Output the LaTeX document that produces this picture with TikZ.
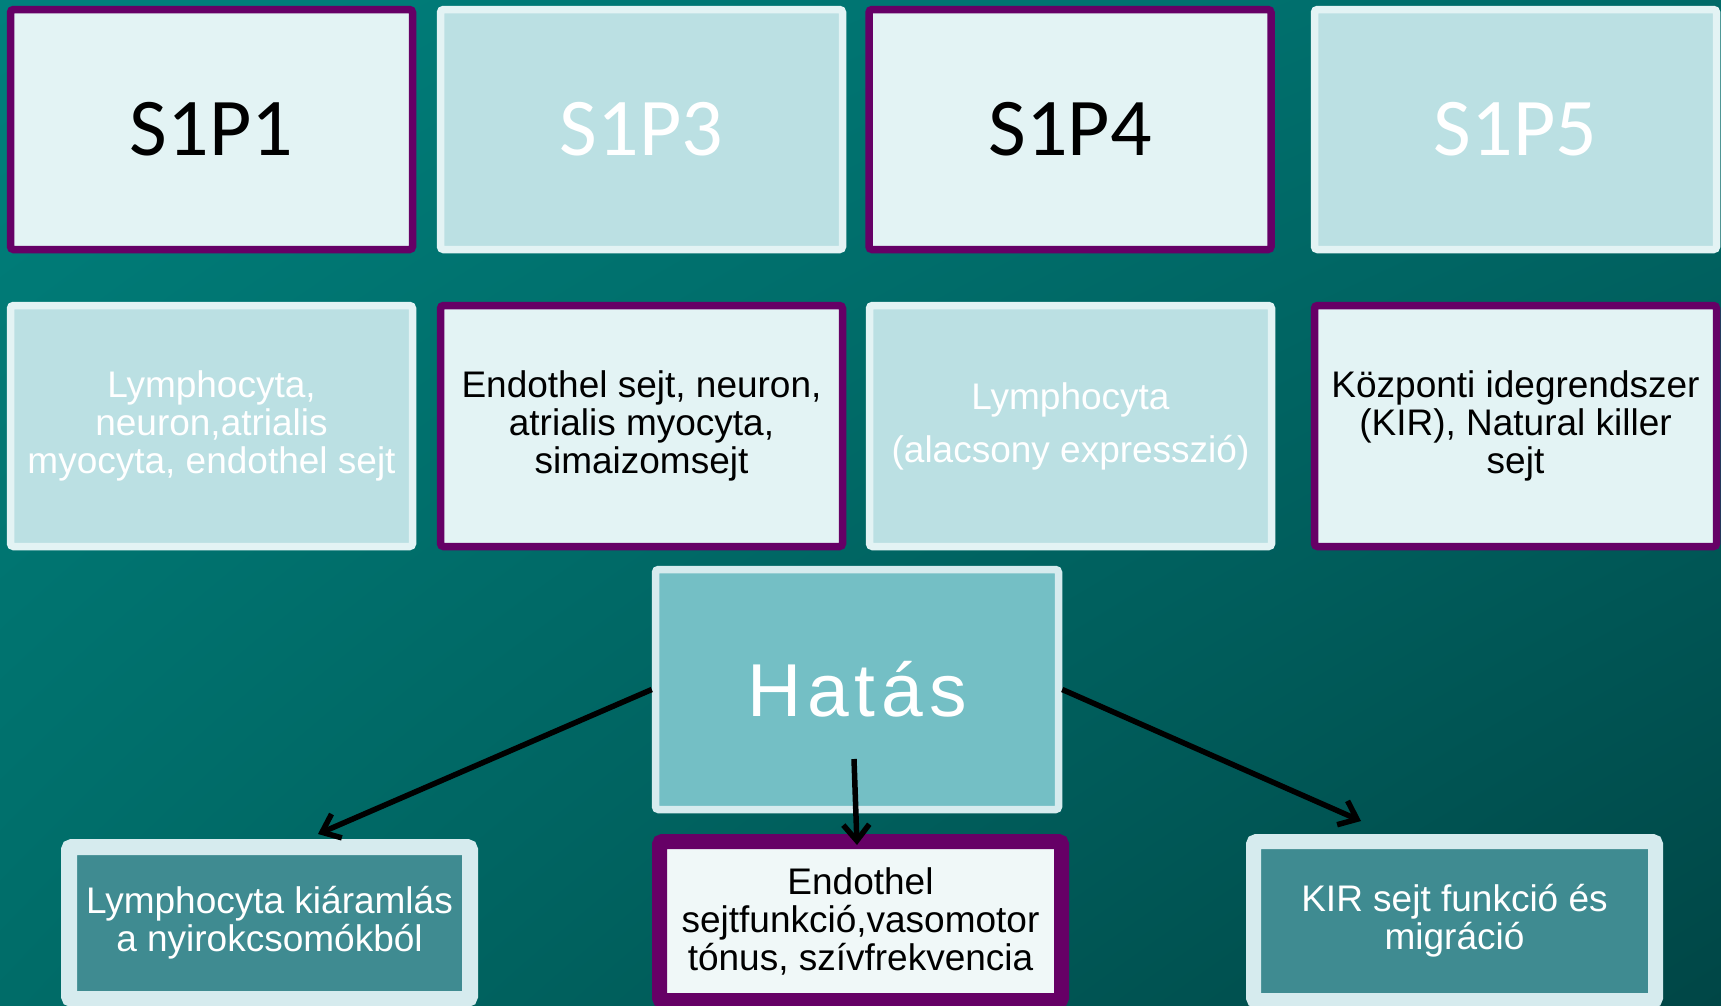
\documentclass[tikz,border=0pt]{standalone}
\usepackage{fontspec}
\setmainfont{Liberation Sans}
\newfontfamily\calib{Carlito}
\newfontfamily\hatasfont[LetterSpace=8]{Liberation Sans}
\usetikzlibrary{arrows.meta,shadings}
\definecolor{purp}{RGB}{102,0,102}
\definecolor{lightfill}{RGB}{227,243,244}
\definecolor{cyanfill}{RGB}{187,224,227}
\definecolor{hatfill}{RGB}{116,191,197}
\definecolor{paleborder}{RGB}{214,235,238}
\definecolor{botfill}{RGB}{63,139,145}
\definecolor{midfill}{RGB}{240,248,248}
\definecolor{bgA}{RGB}{0,128,124}
\definecolor{bgB}{RGB}{0,106,104}
\definecolor{bgC}{RGB}{0,108,104}
\definecolor{bgD}{RGB}{0,70,70}
\tikzset{
  box/.style={rectangle, rounded corners=3pt, inner sep=0pt, align=center},
  hdr/.style={box, line width=7.5pt, minimum width=402pt, minimum height=240pt,
    font=\calib\fontsize{82}{90}\selectfont},
  cell/.style={box, line width=7.5pt, minimum width=402pt, minimum height=241pt,
    font=\fontsize{37}{38}\selectfont},
  purpbox/.style={draw=purp, fill=lightfill, text=black},
  cyanbox/.style={draw=lightfill, fill=cyanfill, text=white},
  botbox/.style={box, line width=15pt, minimum width=402pt, minimum height=159pt,
    font=\fontsize{37}{38}\selectfont},
  arr/.style={line width=5.5pt, -{Straight Barb[length=16pt,width=26pt]}}
}
\begin{document}
\begin{tikzpicture}[x=1pt,y=-1pt]
\shade[upper left=bgA, upper right=bgB, lower left=bgC, lower right=bgD] (0,0) rectangle (1721,1005);
\clip (0,0) rectangle (1721,1005);

% header row
\node[hdr, purpbox] (s1p1) at (211.5,129.5) {S1P1};
\node[hdr, cyanbox] (s1p3) at (641.5,129.5) {S1P3};
\node[hdr, purpbox] (s1p4) at (1070,129.5) {S1P4};
\node[hdr, cyanbox] (s1p5) at (1515.5,129.5) {S1P5};

% second row
\node[cell, cyanbox] (c1) at (211.5,426) {Lymphocyta,\\neuron,atrialis\\myocyta, endothel sejt};
\node[cell, purpbox] (c3) at (641.5,426) {Endothel sejt, neuron,\\atrialis myocyta,\\simaizomsejt};
\node[cell, cyanbox, font=\fontsize{37}{53}\selectfont] (c4) at (1070.5,426) {Lymphocyta\\(alacsony expresszió)};
\node[cell, purpbox] (c5) at (1515.5,426) {Központi idegrendszer\\(KIR), Natural killer\\sejt};

% effect box
\node[box, line width=7.5pt, minimum width=403pt, minimum height=240pt,
  draw=paleborder, fill=hatfill, text=white,
  font=\hatasfont\fontsize{75}{80}\selectfont] (hatas) at (857,689.5) {Hatás};

% bottom row
\node[botbox, line width=16pt, minimum width=401pt, minimum height=152pt,
  draw=paleborder, fill=botfill, text=white] (b1) at (269.5,923) {Lymphocyta kiáramlás\\a nyirokcsomókból};
\node[botbox, draw=purp, fill=midfill, text=black] (b2) at (860.5,921) {Endothel\\sejtfunkció,vasomotor\\tónus, szívfrekvencia};
\node[botbox, draw=paleborder, fill=botfill, text=white] (b3) at (1454.5,921) {KIR sejt funkció és\\migráció};

% connectors
\coordinate (tipL) at (318,834);
\coordinate (tipR) at (1361,821);
\coordinate (midS) at (854,759);
\coordinate (tipM) at (857,845);
\draw[arr] (hatas.west) -- (tipL);
\draw[arr] (hatas.east) -- (tipR);
\draw[arr] (midS) -- (tipM);
\end{tikzpicture}
\end{document}
